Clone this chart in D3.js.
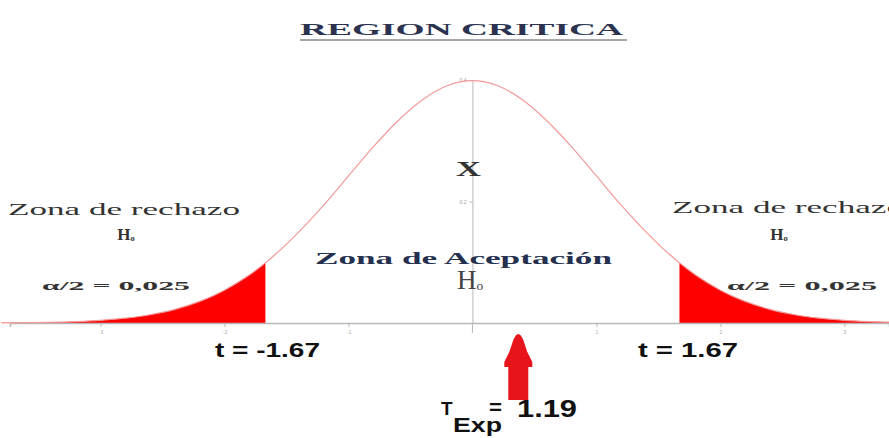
<!DOCTYPE html>
<html>
<head>
<meta charset="utf-8">
<script src="https://cdn.jsdelivr.net/npm/d3@7"></script>
<style>
  html, body { margin: 0; padding: 0; background: #fff; }
  svg { display: block; }
</style>
</head>
<body>
<svg id="chart"></svg>
<script>
// t values and density
const tValues = [-3.8, -3.6, -3.4, -3.2, -3.0, -2.8, -2.6, -2.4, -2.2, -2.0, -1.8, -1.67, -1.6, -1.4, -1.2, -1.0, -0.8, -0.6, -0.4, -0.2,
  0, 0.2, 0.4, 0.6, 0.8, 1.0, 1.2, 1.4, 1.6, 1.67, 1.8, 2.0, 2.2, 2.4, 2.6, 2.8, 3.0, 3.2, 3.4];
const density = [0.0003, 0.0006, 0.0012, 0.0024, 0.0044, 0.0079, 0.0136, 0.0224, 0.0355, 0.054, 0.079, 0.099, 0.111, 0.150, 0.194, 0.242, 0.290, 0.333, 0.368, 0.391,
  0.399, 0.391, 0.368, 0.333, 0.290, 0.242, 0.194, 0.150, 0.111, 0.099, 0.079, 0.054, 0.0355, 0.0224, 0.0136, 0.0079, 0.0044, 0.0024, 0.0012];

const critical = [-1.67, 1.67];
const tExpArrow = 0.37; // where the arrow sits in the picture
const tExpLabel = '1.19';
const xTicks = [-3, -2, -1, 1, 2, 3];
const xTickLabels = ['-3', '-2', '-1', '1', '2', '3'];
const yTicks = [0.2, 0.4];
const yTickLabels = ['0.2', '0.4'];

const width = 889;
const height = 438;
const axisY = 323;
const gridColor = '#b8b8b8';
const serif = '"Liberation Serif", "DejaVu Serif", serif';
const sans = '"Liberation Sans", Arial, sans-serif';

const svg = d3.select('#chart').attr('width', width).attr('height', height);
svg.selectAll('*').remove();

const pts = tValues.map((t, i) => ({ t, d: density[i] }));

// Scales
const x = d3.scaleLinear().domain([-3.73, 3.36]).range([10, 889]);
const y = d3.scaleLinear().domain([0, 0.4]).range([axisY, 80]);

// Title
svg.append('text')
  .attr('x', 300).attr('y', 35)
  .attr('textLength', 323).attr('lengthAdjust', 'spacingAndGlyphs')
  .attr('font-family', serif).attr('font-weight', 'bold').attr('font-size', 17)
  .attr('fill', '#2b3350')
  .text('REGION CRITICA');
svg.append('line')
  .attr('x1', 300).attr('x2', 627).attr('y1', 40).attr('y2', 40)
  .attr('stroke', '#8a8a8a').attr('stroke-width', 1.5);

// Rejection tails
const area = d3.area().x((d) => x(d.t)).y0(y(0)).y1((d) => y(d.d)).curve(d3.curveMonotoneX);
svg.append('path')
  .datum(pts.filter((d) => d.t <= critical[0]))
  .attr('d', area).attr('fill', '#ff0000');
svg.append('path')
  .datum(pts.filter((d) => d.t >= critical[1]))
  .attr('d', area).attr('fill', '#ff0000');

// X axis
const xAxis = svg.append('g')
  .attr('transform', `translate(0,${axisY})`)
  .call(d3.axisBottom(x).tickValues(xTicks).tickSize(4).tickFormat((d, i) => xTickLabels[i]));
xAxis.select('.domain').attr('stroke', gridColor).attr('stroke-width', 1.5);
xAxis.selectAll('.tick line').attr('stroke', gridColor);
xAxis.selectAll('text').attr('fill', '#aaa').attr('font-size', 5).attr('font-family', sans);

// Y axis through 0
const yAxis = svg.append('g')
  .attr('transform', `translate(${x(0)},0)`)
  .call(d3.axisLeft(y).tickValues(yTicks).tickSize(3).tickFormat((d, i) => yTickLabels[i]));
yAxis.select('.domain').attr('stroke', gridColor);
yAxis.selectAll('.tick line').attr('stroke', gridColor);
yAxis.selectAll('text').attr('fill', '#999').attr('font-size', 5).attr('font-family', sans);
svg.append('line')
  .attr('x1', x(0)).attr('x2', x(0)).attr('y1', axisY).attr('y2', axisY + 10)
  .attr('stroke', gridColor);

// Density curve
const line = d3.line().x((d) => x(d.t)).y((d) => y(d.d)).curve(d3.curveMonotoneX);
svg.append('path')
  .datum(pts)
  .attr('d', line).attr('fill', 'none')
  .attr('stroke', '#f29a9a').attr('stroke-width', 1.2);

// H0 label helper: "H" with a small "o" subscript
const h0 = (px, py, size, color, weight) => {
  const t = svg.append('text')
    .attr('x', px).attr('y', py).attr('text-anchor', 'middle')
    .attr('font-family', serif).attr('font-size', size)
    .attr('font-weight', weight).attr('fill', color);
  t.append('tspan').text('H');
  t.append('tspan').attr('font-size', size * 0.5).attr('dy', size * 0.05).text('o');
};

// Labels inside the plot
svg.append('text')
  .attr('x', 456).attr('y', 176)
  .attr('textLength', 25).attr('lengthAdjust', 'spacingAndGlyphs')
  .attr('font-family', serif).attr('font-weight', 'bold').attr('font-size', 20)
  .attr('fill', '#333').text('X');

svg.append('text')
  .attr('x', 315).attr('y', 264)
  .attr('textLength', 297).attr('lengthAdjust', 'spacingAndGlyphs')
  .attr('font-family', serif).attr('font-weight', 'bold').attr('font-size', 16)
  .attr('fill', '#25304f').text('Zona de Aceptación');
h0(470, 289, 27, '#444', 'normal');

// Left rejection zone labels
svg.append('text')
  .attr('x', 8).attr('y', 215)
  .attr('textLength', 232).attr('lengthAdjust', 'spacingAndGlyphs')
  .attr('font-family', serif).attr('font-size', 16)
  .attr('fill', '#333').text('Zona de rechazo');
h0(126, 240, 17, '#333', 'bold');
svg.append('text')
  .attr('x', 42).attr('y', 290)
  .attr('textLength', 148).attr('lengthAdjust', 'spacingAndGlyphs')
  .attr('font-family', serif).attr('font-weight', 'bold').attr('font-size', 13)
  .attr('fill', '#333').text('α/2 = 0,025');

// Right rejection zone labels
svg.append('text')
  .attr('x', 672).attr('y', 213)
  .attr('textLength', 232).attr('lengthAdjust', 'spacingAndGlyphs')
  .attr('font-family', serif).attr('font-size', 16)
  .attr('fill', '#333').text('Zona de rechazo');
h0(779, 240, 17, '#333', 'bold');
svg.append('text')
  .attr('x', 727).attr('y', 290)
  .attr('textLength', 150).attr('lengthAdjust', 'spacingAndGlyphs')
  .attr('font-family', serif).attr('font-weight', 'bold').attr('font-size', 13)
  .attr('fill', '#333').text('α/2 = 0,025');

// Critical value labels
svg.append('text')
  .attr('x', 215).attr('y', 357)
  .attr('textLength', 105).attr('lengthAdjust', 'spacingAndGlyphs')
  .attr('font-family', sans).attr('font-weight', 'bold').attr('font-size', 21)
  .attr('fill', '#111').text(`t = ${critical[0]}`);
svg.append('text')
  .attr('x', 638).attr('y', 357)
  .attr('textLength', 100).attr('lengthAdjust', 'spacingAndGlyphs')
  .attr('font-family', sans).attr('font-weight', 'bold').attr('font-size', 21)
  .attr('fill', '#111').text(`t = ${critical[1]}`);

// Arrow for the experimental statistic
const cx = x(tExpArrow);
svg.append('path')
  .attr('d', `M${cx - 5},340 Q${cx},328 ${cx + 5},340 L${cx + 9},352 L${cx + 14},362 L${cx + 14},367 L${cx + 10},367
    L${cx + 10},400 L${cx - 10},400 L${cx - 10},367 L${cx - 14},367 L${cx - 14},362 L${cx - 9},352 Z`)
  .attr('fill', '#e8141c');

const tExp = svg.append('g').attr('font-family', sans).attr('font-weight', 'bold').attr('fill', '#111');
tExp.append('text').attr('x', 441).attr('y', 415).attr('font-size', 19).text('T');
tExp.append('text').attr('x', 453).attr('y', 432)
  .attr('textLength', 49).attr('lengthAdjust', 'spacingAndGlyphs').attr('font-size', 20).text('Exp');
tExp.append('text').attr('x', 489).attr('y', 414)
  .attr('textLength', 13).attr('lengthAdjust', 'spacingAndGlyphs').attr('font-size', 20).text('=');
tExp.append('text').attr('x', 517).attr('y', 417)
  .attr('textLength', 60).attr('lengthAdjust', 'spacingAndGlyphs').attr('font-size', 23).text(tExpLabel);
</script>
</body>
</html>
